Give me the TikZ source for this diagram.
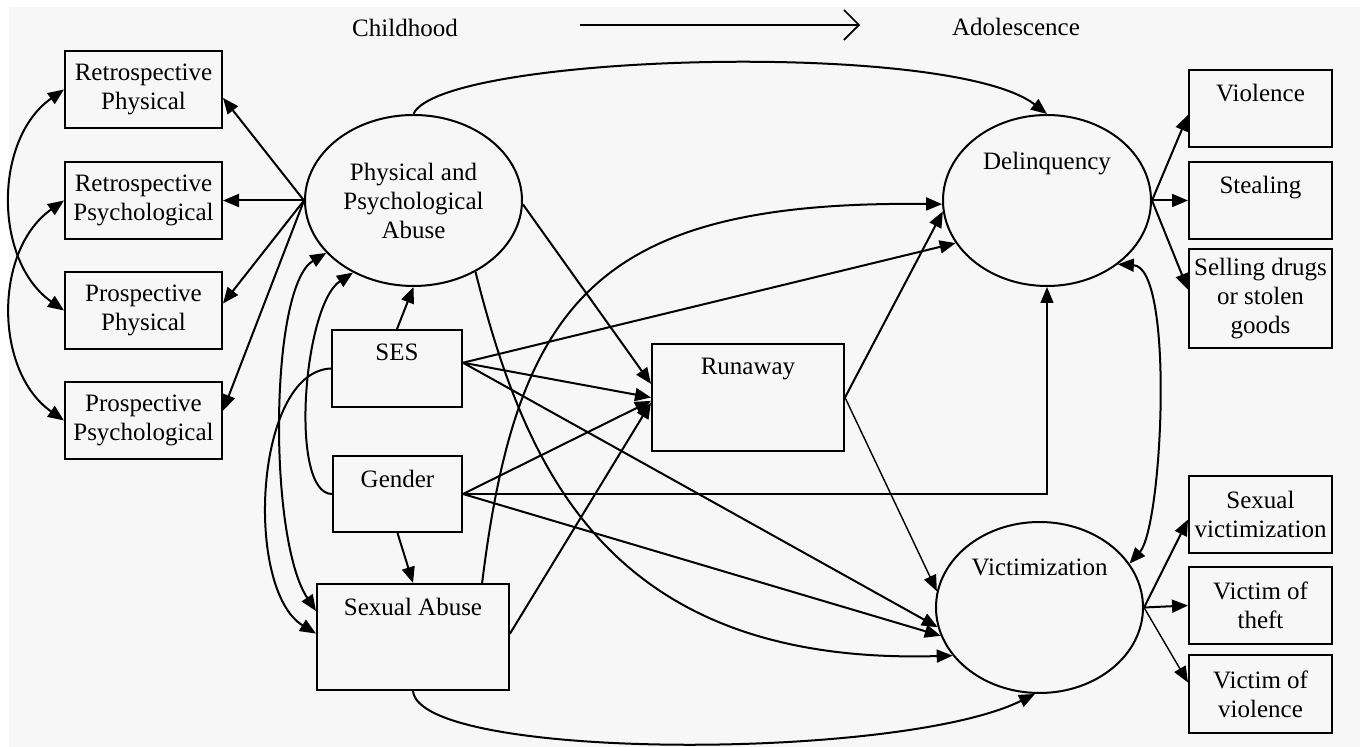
\documentclass[tikz,border=0pt]{standalone}
\usepackage{fontspec}
\setmainfont{Liberation Serif}
\usepackage{tikz}
\usetikzlibrary{arrows.meta,shapes.geometric}
\definecolor{bggray}{HTML}{F7F7F7}

\begin{document}
\begin{tikzpicture}[
  x=0.5pt, y=-0.5pt,
  every node/.style={font=\fontsize{12.5}{14.5}\selectfont},
  box/.style={draw,line width=1pt,rectangle,align=center,inner sep=0pt,
    minimum width=78.5pt,minimum height=38.5pt},
  lat/.style={draw,line width=1pt,ellipse,align=center,inner sep=0pt},
  intext/.style={anchor=north,yshift=-4pt},
  eff/.style={line width=1pt,-{Triangle[length=8pt,width=6.5pt]}},
  weak/.style={eff,line width=0.7pt},
  cov/.style={line width=1pt,
    {Triangle[length=8pt,width=6.5pt]}-{Triangle[length=8pt,width=6.5pt]}}
]
  \fill[white] (0,0) rectangle (1360,747);
  \fill[bggray] (9,7) rectangle (1360,747);
  \useasboundingbox (0,0) rectangle (1360,747);

  % time line
  \node (child) at (405,28) {Childhood};
  \node (adol) at (1016,27) {Adolescence};
  \coordinate (tstart) at (580,25);
  \coordinate (tend) at (860,25);
  \draw[line width=0.8pt,-{Straight Barb[length=7.5pt,width=15pt]}]
    (tstart) -- (tend);

  % indicators of abuse
  \node[box] (rphys) at (143.5,89.5) {Retrospective\\Physical};
  \node[box] (rpsy) at (143.5,200.5) {Retrospective\\Psychological};
  \node[box] (pphys) at (143.5,310.5) {Prospective\\Physical};
  \node[box] (ppsy) at (143.5,420.5) {Prospective\\Psychological};

  % childhood
  \node[lat,minimum width=108.5pt,minimum height=85.5pt] (ppa)
    at (413.5,200.5) {Physical and\\Psychological\\Abuse};
  \node[box,minimum width=65pt,label={[intext]north:SES}] (ses)
    at (397,368.5) {};
  \node[box,minimum width=64.5pt,minimum height=38pt,
    label={[intext]north:Gender}] (gen) at (397.5,494) {};
  \node[box,minimum width=96pt,minimum height=53pt,
    label={[intext]north:Sexual Abuse}] (sa) at (413,637) {};

  % adolescence
  \node[box,minimum width=96pt,minimum height=53.5pt,
    label={[intext]north:Runaway}] (run) at (748,397.5) {};
  \node[lat,minimum width=104pt,minimum height=85.5pt,
    label={[intext,yshift=-11.5pt]north:Delinquency}] (del)
    at (1047,200.5) {};
  \node[lat,minimum width=103.5pt,minimum height=85.5pt,
    label={[intext,yshift=-11.5pt]north:Victimization}] (vic)
    at (1039.5,607.5) {};

  % indicators of outcomes
  \node[box,minimum width=71.5pt,label={[intext]north:Violence}] (viol)
    at (1260.5,108.5) {};
  \node[box,minimum width=71.5pt,label={[intext]north:Stealing}] (steal)
    at (1260.5,200.5) {};
  \node[box,minimum width=71.5pt,minimum height=49.5pt] (sell)
    at (1260.5,298.5) {Selling drugs\\or stolen\\goods};
  \node[box,minimum width=71.5pt] (sexv)
    at (1260.5,514.5) {Sexual\\victimization};
  \node[box,minimum width=71.5pt] (vtheft)
    at (1260.5,605.5) {Victim of\\theft};
  \node[box,minimum width=71.5pt,minimum height=39pt] (vviol)
    at (1260.5,694) {Victim of\\violence};

  % measurement of abuse
  \foreach \ind/\ang in {rphys/-6,rpsy/0,pphys/5,ppsy/7}
    \draw[eff] (ppa.west) -- (\ind.\ang);
  \draw[cov] (rphys.west) to[out=215,in=145] (pphys.west);
  \draw[cov] (rpsy.west) to[out=215,in=145] (ppsy.west);

  % SES and gender
  \draw[eff] (ses.north) -- (ppa.south);
  \draw[eff] (gen.south) -- (sa.north);
  \draw[eff] (gen.west) .. controls +(-43,0) and +(-50,33) .. (ppa.-130);
  \draw[eff] (ses.west) .. controls +(-77,3) and +(-72,-44) .. (sa.178);
  \draw[cov] (ppa.-149) .. controls +(-57,34) and +(-48,-72) .. (sa.165);

  % paths to runaway
  \draw[eff] (ppa.-2) -- (run.172);
  \draw[eff] (ses.5) -- (run.west);
  \draw[eff] (gen.east) -- (run.-178);
  \draw[eff] (sa.2) -- (run.-177);

  % paths to delinquency
  \draw[eff] (ppa.north) .. controls +(26.5,-60) and +(-97,-75) .. (del.north);
  \draw[eff] (ses.5) -- (del.-155);
  \draw[eff] (sa.38) .. controls +(35,-284) and +(-343,-4) .. (del.-178);
  \draw[eff] (run.east) -- (del.-174);
  \draw[weak] (gen.east) -| (del.south);

  % paths to victimization
  \draw[eff] (ppa.-49) .. controls +(50,198) and +(-344,10) .. (vic.-151);
  \draw[eff] (ses.5) -- (vic.-169);
  \draw[eff] (gen.east) -- (vic.-164);
  \draw[weak] (run.east) -- (vic.171);
  \draw[eff] (sa.south) .. controls +(7,70) and +(-135,67) .. (vic.-93);
  \draw[cov] (del.-42) .. controls +(57,3) and +(33,-37) .. (vic.26);

  % measurement of outcomes
  \draw[eff] (del.east) -- (viol.-175);
  \draw[eff] (del.east) -- (steal.west);
  \draw[eff] (del.east) -- (sell.173);
  \draw[eff] (vic.east) -- (sexv.-176);
  \draw[eff] (vic.east) -- (vtheft.west);
  \draw[weak] (vic.east) -- (vviol.171);
\end{tikzpicture}
\end{document}
